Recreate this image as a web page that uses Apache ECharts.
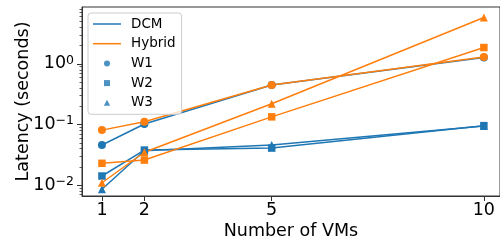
<!DOCTYPE html>
<html>
<head>
<meta charset="utf-8">
<script src="https://cdn.jsdelivr.net/npm/echarts@6/dist/echarts.min.js"></script>
<style>
html,body{margin:0;padding:0;background:#fff;}
#chart{width:500px;height:241px;}
</style>
</head>
<body>
<div id="chart"></div>
<script>
// ---- data ----
const vms = [1, 2, 5, 10];
const dcmW1 = [0.046, 0.102, 0.45, 1.27];
const dcmW2 = [0.0142, 0.038, 0.041, 0.096];
const dcmW3 = [0.0086, 0.037, 0.046, 0.095];
const hybW1 = [0.081, 0.111, 0.45, 1.30];
const hybW2 = [0.023, 0.026, 0.134, 1.86];
const hybW3 = [0.011, 0.035, 0.22, 5.8];
const xTicks = [1, 2, 5, 10];
const yMajor = [0.01, 0.1, 1];
const yMinor = [0.007, 0.008, 0.009, 0.02, 0.03, 0.04, 0.05, 0.06, 0.07, 0.08, 0.09,
                0.2, 0.3, 0.4, 0.5, 0.6, 0.7, 0.8, 0.9, 2, 3, 4, 5, 6, 7, 8];
const legendNames = ['DCM', 'Hybrid', 'W1', 'W2', 'W3'];

const BLUE = '#1f77b4', ORANGE = '#ff7f0e';
const FONT = 'DejaVu Sans';
const pairs = arr => vms.map((x, i) => [x, arr[i]]);

function dataSeries(name, arr, color, symbol, size) {
  return {
    name: name, type: 'line', data: pairs(arr),
    xAxisIndex: 0, yAxisIndex: 0,
    symbol: symbol, symbolSize: size, showAllSymbol: true,
    lineStyle: { color: color, width: 1.5 },
    itemStyle: { color: color },
    emphasis: { disabled: true },
    animation: false
  };
}

const ICON_LINE = 'path://M0,0H28V1.5H0Z';
const ICON_RECT = 'path://M0,0H1V1H0Z';
const ICON_TRI = 'path://M0.5,0L1,0.95H0Z';

const GRID = { left: 82, right: 0, top: 7, bottom: 45, outerBoundsMode: 'none', containLabel: false };
const chart = echarts.init(document.getElementById('chart'), null, { renderer: 'canvas' });
const yMin = 0.00665, yMax = 8.66, xMin = 0.53, xMax = 10.38;
chart.setOption({
  animation: false,
  textStyle: { fontFamily: FONT },
  grid: [
    Object.assign({ show: true, borderColor: '#333', borderWidth: 1 }, GRID),
    Object.assign({ show: false }, GRID)
  ],
  legend: {
    orient: 'vertical', left: 88, top: 13,
    padding: [3, 6, 3.5, 5],
    itemWidth: 28, itemHeight: 6, itemGap: 3.7,
    symbolKeepAspect: true,
    backgroundColor: 'rgba(255,255,255,0.8)',
    borderColor: '#cccccc', borderWidth: 1, borderRadius: 3,
    textStyle: { fontFamily: FONT, fontSize: 13.5, color: '#000', lineHeight: 16, padding: [0, 0, 0, 5] },
    data: [
      { name: legendNames[0], icon: ICON_LINE },
      { name: legendNames[1], icon: ICON_LINE },
      { name: legendNames[2], icon: 'circle' },
      { name: legendNames[3], icon: ICON_RECT },
      { name: legendNames[4], icon: ICON_TRI }
    ]
  },
  xAxis: [{
    type: 'value', min: xMin, max: xMax, gridIndex: 0,
    name: 'Number of VMs', nameLocation: 'middle', nameGap: 26, nameMoveOverlap: false,
    nameTextStyle: { fontFamily: FONT, fontSize: 17.5, color: '#000' },
    axisLine: { show: true, lineStyle: { color: '#333', width: 1 } },
    axisTick: { show: true, length: 5, customValues: xTicks, lineStyle: { color: '#333' } },
    axisLabel: { customValues: xTicks, fontFamily: FONT, fontSize: 17.5, color: '#000', margin: 5 },
    splitLine: { show: false }
  }, {
    type: 'value', min: xMin, max: xMax, gridIndex: 1, show: false
  }],
  yAxis: [{
    type: 'log', logBase: 10, min: yMin, max: yMax, gridIndex: 0,
    name: 'Latency (seconds)', nameLocation: 'middle', nameGap: 50, nameRotate: 90, nameMoveOverlap: false,
    nameTextStyle: { fontFamily: FONT, fontSize: 17.5, color: '#000' },
    axisLine: { show: true, lineStyle: { color: '#333', width: 1 } },
    axisTick: { show: true, length: 5, customValues: yMajor, lineStyle: { color: '#333' } },
    axisLabel: {
      customValues: yMajor, margin: 8,
      formatter: function (v) {
        const e = Math.round(Math.log10(v));
        return '{b|10}{s|' + (e < 0 ? '\u2212' + (-e) : String(e)) + '}';
      },
      rich: {
        b: { fontFamily: FONT, fontSize: 17.5, color: '#000', lineHeight: 20 },
        s: { fontFamily: FONT, fontSize: 12.5, color: '#000', verticalAlign: 'top', lineHeight: 13 }
      }
    },
    splitLine: { show: false }
  }, {
    type: 'log', logBase: 10, min: yMin, max: yMax, gridIndex: 1, position: 'left',
    axisLine: { show: false },
    axisTick: { show: true, length: 2.5, customValues: yMinor, lineStyle: { color: '#333', width: 0.8 } },
    axisLabel: { show: false },
    splitLine: { show: false }
  }],
  series: [
    dataSeries('DCM W1', dcmW1, BLUE, 'circle', 8),
    dataSeries('DCM W2', dcmW2, BLUE, 'rect', 7.5),
    dataSeries('DCM W3', dcmW3, BLUE, 'triangle', 8),
    dataSeries('Hybrid W1', hybW1, ORANGE, 'circle', 8),
    dataSeries('Hybrid W2', hybW2, ORANGE, 'rect', 7.5),
    dataSeries('Hybrid W3', hybW3, ORANGE, 'triangle', 8),
    { name: 'DCM', type: 'line', data: [], symbol: 'none', lineStyle: { color: BLUE, width: 1.5 }, itemStyle: { color: BLUE } },
    { name: 'Hybrid', type: 'line', data: [], symbol: 'none', lineStyle: { color: ORANGE, width: 1.5 }, itemStyle: { color: ORANGE } },
    { name: 'W1', type: 'scatter', data: [], symbol: 'circle', itemStyle: { color: BLUE } },
    { name: 'W2', type: 'scatter', data: [], symbol: 'rect', itemStyle: { color: BLUE } },
    { name: 'W3', type: 'scatter', data: [], symbol: 'triangle', itemStyle: { color: BLUE } },
    { name: 'minor', type: 'line', data: [], xAxisIndex: 1, yAxisIndex: 1, silent: true }
  ]
});
</script>
</body>
</html>
